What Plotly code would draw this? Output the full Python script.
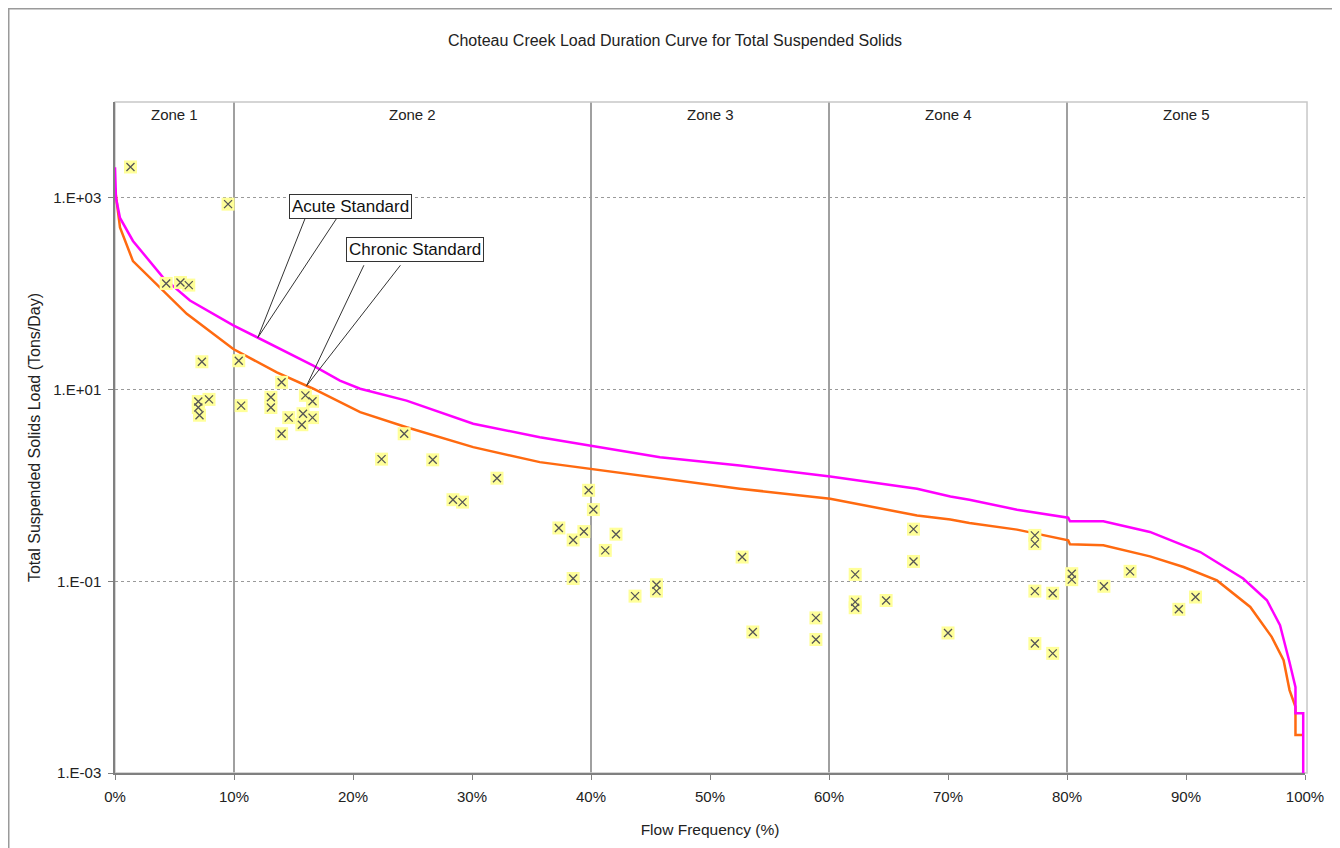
import math
import numpy as np
import plotly.graph_objects as go

# ---- Data ----
acute_x = [0.0, 0.08, 0.42, 1.51, 4.03, 6.3, 9.94, 12.18, 16.66, 18.9, 20.6, 24.5, 30.1,
           35.7, 39.9, 44.1, 45.8, 52.5, 60.1, 67.4, 70.2, 71.8, 75.8, 80.1, 80.25, 83.05, 86.97,
           91.2, 94.8, 96.8, 97.9, 98.7, 99.2, 99.2, 99.85, 99.85]
acute_y = [2090, 1000, 617, 355, 148, 85, 46.8, 33.9, 17.8, 12.4, 10.2, 7.67, 4.40,
           3.18, 2.61, 2.14, 1.97, 1.61, 1.24, 0.925, 0.767, 0.710, 0.558, 0.461, 0.422, 0.422, 0.327,
           0.202, 0.107, 0.0634, 0.0348, 0.0143, 0.00787, 0.00419, 0.00419, 0.0008]

chronic_x = [0.0, 0.13, 0.42, 1.51, 4.34, 6.03, 9.94, 13.6, 16.66, 18.9, 20.6, 24.5, 30.1, 35.7,
             39.9, 45.8, 52.5, 60.1, 67.4, 70.2, 71.8, 75.8, 80.1, 80.25, 83.05, 86.97, 89.8, 92.6,
             95.4, 97.2, 98.2, 98.7, 99.2, 99.2, 99.85]
chronic_y = [1260, 933, 490, 219, 100, 61.7, 26.5, 15.1, 10.2, 7.38, 5.81, 4.05, 2.51, 1.75,
             1.49, 1.175, 0.925, 0.726, 0.486, 0.440, 0.405, 0.346, 0.267, 0.243, 0.237, 0.182, 0.141, 0.102,
             0.054, 0.0263, 0.0150, 0.00733, 0.0049, 0.00249, 0.00249]

obs_x = [1.3, 9.5, 4.3, 5.5, 6.2, 7.3, 7.0, 7.0, 7.1, 7.9, 10.4, 10.6, 14.0, 13.1, 13.1, 14.6, 14.0,
         16.0, 16.6, 15.8, 16.6, 15.7, 22.4, 24.3, 26.7, 28.4, 29.2, 32.1, 37.3, 38.5, 38.5, 39.4,
         39.8, 40.2, 41.2, 42.1, 43.7, 45.5, 45.5, 52.7, 53.6, 58.9, 58.9, 62.2, 62.2, 62.2, 64.8,
         67.1, 67.1, 70.0, 77.3, 77.3, 77.3, 77.3, 78.8, 78.8, 80.4, 80.4, 83.1, 85.3, 89.4, 90.8]
obs_y = [2100, 860, 128, 131, 123, 19.5, 7.5, 6.5, 5.4, 7.9, 20, 6.8, 11.9, 8.3, 6.5, 5.1, 3.46,
         8.7, 7.55, 5.6, 5.1, 4.3, 1.88, 3.46, 1.85, 0.71, 0.67, 1.19, 0.36, 0.27, 0.107, 0.33,
         0.89, 0.56, 0.21, 0.31, 0.070, 0.092, 0.079, 0.179, 0.0296, 0.0415, 0.0247, 0.118, 0.061, 0.053, 0.063,
         0.35, 0.161, 0.0289, 0.301, 0.247, 0.079, 0.0224, 0.075, 0.0177, 0.120, 0.104, 0.0887, 0.127, 0.051, 0.0685]

zone_bounds = [10, 40, 60, 80]
zone_centers = [5, 25, 50, 70, 90]
zone_labels = ["Zone 1", "Zone 2", "Zone 3", "Zone 4", "Zone 5"]

x_ticks = list(range(0, 101, 10))
x_ticktext = [f"{v}%" for v in x_ticks]
y_ticks = [1e-3, 1e-1, 1e1, 1e3]
y_ticktext = ["1.E-03", "1.E-01", "1.E+01", "1.E+03"]

FONT = "Arial, Liberation Sans, sans-serif"
TXT = "#222222"

# figure size/margins (page has an 8px body margin)
W, H = 1332, 840
ML, MR, MT, MB = 107, 35, 94, 75
PW, PH = W - ML - MR, H - MT - MB

fig = go.Figure()
fig.add_trace(go.Scatter(x=chronic_x, y=chronic_y, mode="lines", name="Chronic Standard",
                         line=dict(color="#FF6A10", width=2.5)))
fig.add_trace(go.Scatter(x=acute_x, y=acute_y, mode="lines", name="Acute Standard",
                         line=dict(color="#FF00FF", width=2.5)))
fig.add_trace(go.Scatter(x=obs_x, y=obs_y, mode="markers", name="Observed",
                         marker=dict(symbol="square", size=13, color="#FFFF99", line=dict(width=0))))
fig.add_trace(go.Scatter(x=obs_x, y=obs_y, mode="markers", name="Observed",
                         marker=dict(symbol="x-thin", size=8, color="#555555",
                                     line=dict(width=1.3, color="#555555"))))

shapes = []
for b in zone_bounds:
    shapes.append(dict(type="line", xref="x", yref="paper", x0=b, x1=b, y0=0, y1=1,
                       line=dict(color="#808080", width=1.5), layer="below"))
# plot-area border
shapes.append(dict(type="rect", xref="paper", yref="paper", x0=0, x1=1.0017, y0=0, y1=1,
                   line=dict(color="#C8C8C8", width=1.5), layer="below"))
# outer chart border
shapes.append(dict(type="rect", xref="paper", yref="paper",
                   x0=(0.75 - ML) / PW, x1=(1330 - ML) / PW,
                   y0=(PH + MT - (H + 10)) / PH, y1=(PH + MT - 0.75) / PH,
                   line=dict(color="#9A9A9A", width=1.5)))

annotations = []
for xc, lab in zip(zone_centers, zone_labels):
    annotations.append(dict(x=xc, y=0.982, xref="x", yref="paper", yanchor="middle", text=lab,
                            showarrow=False, font=dict(size=15, color=TXT, family=FONT)))

# leader lines
ac_pt_x = 12.0
ac_pt_y = float(np.interp(ac_pt_x, acute_x, np.log10(acute_y)))
ch_pt_x = 16.1
ch_pt_y = float(np.interp(ch_pt_x, chronic_x, np.log10(chronic_y)))
for ax_, ay_ in [(48, -121), (80, -121)]:
    annotations.append(dict(x=ac_pt_x, y=ac_pt_y, xref="x", yref="y", text="", showarrow=True,
                            arrowhead=0, arrowwidth=1, arrowcolor="#333333", ax=ax_, ay=ay_,
                            standoff=0, startstandoff=0))
for ax_, ay_ in [(58, -122), (95, -122)]:
    annotations.append(dict(x=ch_pt_x, y=ch_pt_y, xref="x", yref="y", text="", showarrow=True,
                            arrowhead=0, arrowwidth=1, arrowcolor="#333333", ax=ax_, ay=ay_,
                            standoff=0, startstandoff=0))
annotations.append(dict(x=19.75, y=math.log10(805), xref="x", yref="y", text="Acute Standard",
                        showarrow=False, bgcolor="white", bordercolor="#333333", borderwidth=1,
                        borderpad=2, font=dict(size=17, color="#111111", family=FONT)))
annotations.append(dict(x=25.18, y=math.log10(287), xref="x", yref="y", text="Chronic Standard",
                        showarrow=False, bgcolor="white", bordercolor="#333333", borderwidth=1,
                        borderpad=2, font=dict(size=17, color="#111111", family=FONT)))

fig.update_layout(
    width=W, height=H,
    margin=dict(l=ML, r=MR, t=MT, b=MB),
    paper_bgcolor="white", plot_bgcolor="white",
    showlegend=False,
    font=dict(family=FONT, size=15, color=TXT),
    title=dict(text="Choteau Creek Load Duration Curve for Total Suspended Solids",
               x=(675 - 8) / W, xref="container", y=1 - 32 / H, yref="container", yanchor="middle",
               xanchor="center", font=dict(size=16, color=TXT, family=FONT)),
    shapes=shapes,
    annotations=annotations,
)
fig.update_xaxes(range=[0, 100], tickvals=x_ticks, ticktext=x_ticktext, showgrid=False,
                 showline=True, linecolor="#808080", linewidth=1.5, ticks="outside", ticklen=5,
                 tickcolor="#808080", zeroline=False, tickfont=dict(size=15, color=TXT),
                 ticklabelstandoff=4,
                 title=dict(text="Flow Frequency (%)", standoff=20, font=dict(size=15.5, color=TXT)))
fig.update_yaxes(type="log", range=[-3, 4], tickvals=y_ticks, ticktext=y_ticktext,
                 showgrid=True, gridcolor="#9A9A9A", griddash="dot", gridwidth=1,
                 showline=True, linecolor="#808080", linewidth=1.5, ticks="outside", ticklen=5,
                 tickcolor="#808080", zeroline=False, tickfont=dict(size=15, color=TXT),
                 ticklabelstandoff=4,
                 title=dict(text="Total Suspended Solids Load (Tons/Day)", standoff=9,
                            font=dict(size=16, color=TXT)))

fig.write_html("out.html")
